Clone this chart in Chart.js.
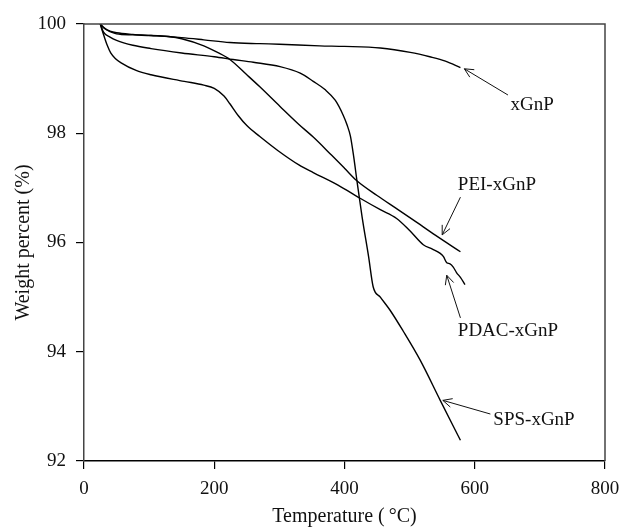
<!DOCTYPE html>
<html lang="en">
<head>
  <meta charset="UTF-8">
  <title>TGA curves</title>
  <script src="https://cdn.jsdelivr.net/npm/chart.js"></script>
  <style>
    html, body { margin: 0; padding: 0; background: #fff; }
    #wrap { width: 622px; height: 529px; }
  </style>
</head>
<body>
  <div id="wrap"><canvas id="tga"></canvas></div>

  <script>
    // temperature (°C) / weight percent (%)
    const xgnpT = [25, 30, 40, 50, 75, 103, 150, 184, 224, 270, 300, 362, 400, 455, 501, 531, 555, 578];
    const xgnpW = [100, 99.93, 99.86, 99.82, 99.8, 99.79, 99.75, 99.71, 99.66, 99.64, 99.63, 99.6, 99.59, 99.56, 99.48, 99.4, 99.32, 99.2];

    const peiT = [25, 32, 40, 50, 75, 103, 130, 150, 184, 205, 224, 250, 270, 301, 330, 352, 380, 400, 419, 450, 480, 506, 540, 578];
    const peiW = [100, 99.92, 99.87, 99.84, 99.81, 99.79, 99.77, 99.73, 99.6, 99.48, 99.35, 99.07, 98.85, 98.49, 98.16, 97.93, 97.6, 97.36, 97.13, 96.86, 96.62, 96.41, 96.13, 95.83];

    const pdacT = [25, 28, 31, 36, 41, 48, 57, 80, 103, 154, 184, 200, 215, 224, 237, 250, 270, 298, 330, 352, 390, 424, 455, 480, 500, 521, 535, 547, 552, 557, 562, 567, 572, 578, 585];
    const pdacW = [100, 99.88, 99.77, 99.6, 99.47, 99.37, 99.29, 99.15, 99.07, 98.95, 98.88, 98.82, 98.68, 98.54, 98.32, 98.14, 97.94, 97.68, 97.42, 97.28, 97.05, 96.81, 96.6, 96.44, 96.22, 95.96, 95.88, 95.8, 95.74, 95.63, 95.61, 95.55, 95.45, 95.36, 95.23];

    const spsT = [25, 30, 40, 50, 75, 103, 150, 200, 229, 260, 301, 332, 352, 370, 386, 398, 404, 409, 414, 419, 427, 437, 444, 455, 470, 490, 516, 547, 578];
    const spsW = [100, 99.85, 99.76, 99.7, 99.61, 99.55, 99.47, 99.4, 99.35, 99.3, 99.22, 99.1, 98.95, 98.8, 98.6, 98.33, 98.15, 97.95, 97.58, 97.14, 96.47, 95.74, 95.19, 95.0, 94.76, 94.38, 93.85, 93.11, 92.38];

    const seriesNames = ['xGnP', 'PEI-xGnP', 'PDAC-xGnP', 'SPS-xGnP'];

    // callouts: label centre, arrow tail, arrow tip (data units)
    const calloutText = ['xGnP', 'PEI-xGnP', 'PDAC-xGnP', 'SPS-xGnP'];
    const calloutLabel = [[688, 98.52], [634, 97.05], [651, 94.38], [691, 92.75]];
    const calloutTail = [[651, 98.7], [578, 96.83], [578, 94.62], [624, 92.86]];
    const calloutTip = [[584, 99.18], [550, 96.14], [557, 95.40], [551, 93.11]];

    const xTicks = [0, 200, 400, 600, 800];
    const yTicks = [92, 94, 96, 98, 100];

    const FONT = "'Liberation Serif', 'DejaVu Serif', serif";

    function pts(ts, ws) {
      return ts.map((t, i) => ({ x: t, y: ws[i] }));
    }

    const curves = [[xgnpT, xgnpW], [peiT, peiW], [pdacT, pdacW], [spsT, spsW]];

    // frame on top/right + arrows and labels
    const calloutPlugin = {
      id: 'callouts',
      afterDraw(chart) {
        const { ctx, chartArea: a, scales: { x, y } } = chart;
        ctx.save();
        ctx.strokeStyle = '#444';
        ctx.lineWidth = 1.5;
        ctx.beginPath();
        ctx.moveTo(a.left, a.top);
        ctx.lineTo(a.right, a.top);
        ctx.lineTo(a.right, a.bottom);
        ctx.stroke();

        ctx.strokeStyle = '#111';
        ctx.fillStyle = '#111';
        ctx.lineWidth = 1;
        ctx.font = '19px ' + FONT;
        ctx.textAlign = 'center';
        ctx.textBaseline = 'middle';
        calloutText.forEach((txt, i) => {
          const tx = x.getPixelForValue(calloutTail[i][0]);
          const ty = y.getPixelForValue(calloutTail[i][1]);
          const hx = x.getPixelForValue(calloutTip[i][0]);
          const hy = y.getPixelForValue(calloutTip[i][1]);
          ctx.beginPath();
          ctx.moveTo(tx, ty);
          ctx.lineTo(hx, hy);
          const ang = Math.atan2(ty - hy, tx - hx);
          const len = 10, spread = 0.45;
          ctx.moveTo(hx + len * Math.cos(ang - spread), hy + len * Math.sin(ang - spread));
          ctx.lineTo(hx, hy);
          ctx.lineTo(hx + len * Math.cos(ang + spread), hy + len * Math.sin(ang + spread));
          ctx.stroke();
          ctx.fillText(txt, x.getPixelForValue(calloutLabel[i][0]), y.getPixelForValue(calloutLabel[i][1]));
        });
        ctx.restore();
      }
    };

    new Chart(document.getElementById('tga'), {
      type: 'scatter',
      data: {
        datasets: curves.map((c, i) => ({
          label: seriesNames[i],
          data: pts(c[0], c[1]),
          showLine: true,
          borderColor: '#000',
          borderWidth: 1.4,
          pointRadius: 0,
          cubicInterpolationMode: 'monotone',
          fill: false
        }))
      },
      options: {
        responsive: true,
        maintainAspectRatio: false,
        animation: false,
        layout: { padding: { top: 24, right: 17, left: 0, bottom: 0 } },
        plugins: {
          legend: { display: false },
          tooltip: { enabled: false }
        },
        scales: {
          x: {
            type: 'linear',
            min: 0, max: 800,
            afterBuildTicks: s => { s.ticks = xTicks.map(v => ({ value: v })); },
            afterFit: s => { s.height = 68; s.paddingLeft = 0; s.paddingRight = 0; },
            grid: { drawOnChartArea: false, tickLength: 8, color: '#000', lineWidth: 1.2 },
            border: { color: '#000', width: 1.5 },
            ticks: { color: '#111', padding: 9, maxRotation: 0, font: { family: FONT, size: 19 } },
            title: { display: true, text: 'Temperature (\u2009°C)', color: '#111', padding: { top: 0, bottom: 0 }, font: { family: FONT, size: 20 } }
          },
          y: {
            min: 92, max: 100,
            afterBuildTicks: s => { s.ticks = yTicks.map(v => ({ value: v })); },
            afterFit: s => { s.width = 84; s.paddingTop = 0; s.paddingBottom = 0; },
            grid: { drawOnChartArea: false, tickLength: 8, color: '#000', lineWidth: 1.2 },
            border: { color: '#444', width: 1.5 },
            ticks: { color: '#111', padding: 10, font: { family: FONT, size: 19 } },
            title: { display: true, text: 'Weight percent (%)', color: '#111', padding: { top: 12, bottom: 0 }, font: { family: FONT, size: 20 } }
          }
        }
      },
      plugins: [calloutPlugin]
    });
  </script>
</body>
</html>
